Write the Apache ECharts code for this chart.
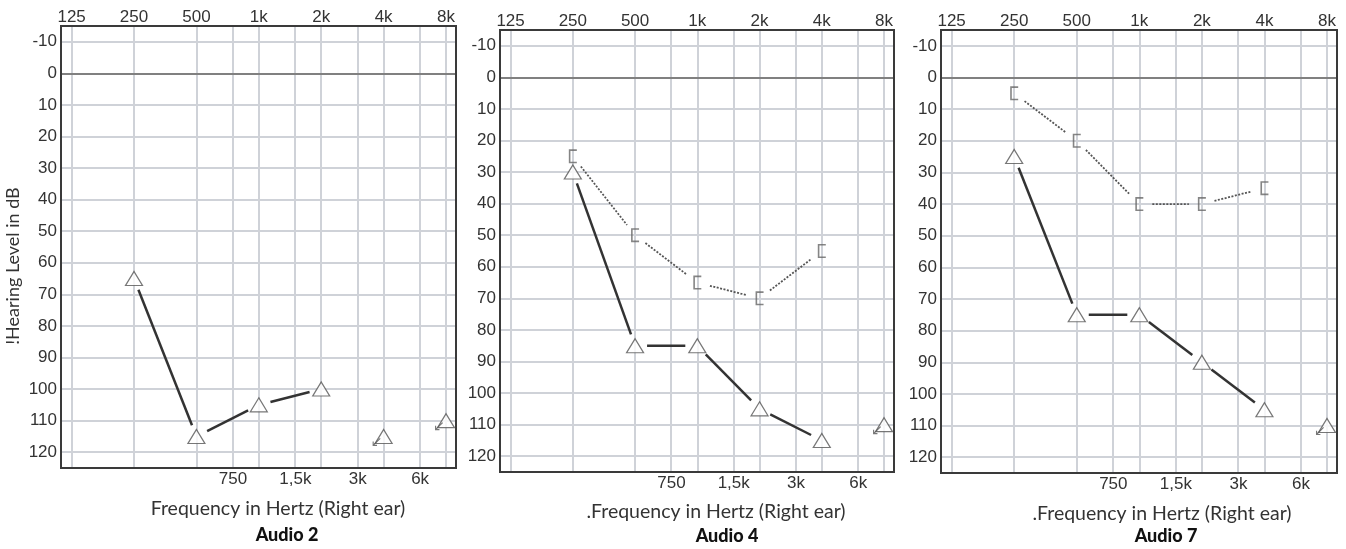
<!DOCTYPE html>
<html><head><meta charset="utf-8">
<script src="https://cdn.jsdelivr.net/npm/echarts@6/dist/echarts.min.js"></script>
<style>html,body{margin:0;padding:0;background:#fff}#c{width:1346px;height:549px}</style>
</head><body><div id="c"></div>
<script>
// ---- data ----
const topFreqs = [125, 250, 500, 1000, 2000, 4000, 8000];
const topLabels = ['125', '250', '500', '1k', '2k', '4k', '8k'];
const bottomFreqs = [750, 1500, 3000, 6000];
const bottomLabels = ['750', '1,5k', '3k', '6k'];
const dbTicks = [-10, 0, 10, 20, 30, 40, 50, 60, 70, 80, 90, 100, 110, 120];

const airFreqs = [250, 500, 1000, 2000, 4000, 8000];
const audio2Air = [65, 115, 105, 100, 115, 110];
const audio2NoResp = [0, 0, 0, 0, 1, 1];
const audio4Air = [30, 85, 85, 105, 115, 110];
const audio4NoResp = [0, 0, 0, 0, 0, 1];
const audio7Air = [25, 75, 75, 90, 105, 110];
const audio7NoResp = [0, 0, 0, 0, 0, 1];

const boneFreqs = [250, 500, 1000, 2000, 4000];
const audio4Bone = [25, 50, 65, 70, 55];
const audio7Bone = [5, 20, 40, 40, 35];

const panelTitles = ['Audio 2', 'Audio 4', 'Audio 7'];
const axisNames = ['Frequency in Hertz (Right ear)', '.Frequency in Hertz (Right ear)', '.Frequency in Hertz (Right ear)'];
const yAxisTitle = '!Hearing Level in dB';

// ---- build ----
const oct = f => Math.log2(f / 125);
const panels = [
  {air: audio2Air, noResp: audio2NoResp, bone: null},
  {air: audio4Air, noResp: audio4NoResp, bone: audio4Bone},
  {air: audio7Air, noResp: audio7NoResp, bone: audio7Bone}
];
const gridBoxes = [
  {left: 61, top: 26, width: 395, height: 442},
  {left: 500, top: 30, width: 394, height: 442},
  {left: 941, top: 30, width: 396, height: 443}
];
const textColor = '#333';
const labelFont = 'Liberation Sans, Arial, sans-serif';
const XMIN = -0.17, XMAX = 6.16;

const grids = [], xAxes = [], yAxes = [], series = [], graphics = [];
const topVals = topFreqs.map(oct), botVals = bottomFreqs.map(oct);
const allV = topVals.concat(botVals);

function segData(freqs, vals, noResp) {
  const out = [];
  for (let i = 0; i < freqs.length - 1; i++) {
    if (noResp && (noResp[i] || noResp[i + 1])) continue;
    out.push([oct(freqs[i]), vals[i], oct(freqs[i + 1]), vals[i + 1]]);
  }
  return out;
}
function segSeries(gi, data, style, gap) {
  return {
    type: 'custom', xAxisIndex: gi * 2 + 1, yAxisIndex: gi, data: data, z: 3, silent: true, clip: false,
    encode: {x: [0, 2], y: [1, 3]},
    renderItem: function (params, api) {
      const a = api.coord([api.value(0), api.value(1)]);
      const b = api.coord([api.value(2), api.value(3)]);
      const dx = b[0] - a[0], dy = b[1] - a[1], L = Math.hypot(dx, dy);
      const ux = dx / L, uy = dy / L;
      return {type: 'polyline',
        shape: {points: [[a[0] + ux * gap, a[1] + uy * gap], [b[0] - ux * gap, b[1] - uy * gap]]},
        style: Object.assign({fill: null}, style)};
    }
  };
}

panels.forEach((p, gi) => {
  grids.push(Object.assign({show: true, borderColor: '#3a3a3a', borderWidth: 2, backgroundColor: 'transparent', z: 4}, gridBoxes[gi]));
  xAxes.push({type: 'value', gridIndex: gi, position: 'top', min: XMIN, max: XMAX,
    axisLine: {show: false}, axisTick: {show: false}, splitLine: {show: false},
    axisLabel: {customValues: topVals, margin: 0, color: textColor, fontSize: 17, fontFamily: labelFont,
      formatter: v => { const i = topVals.findIndex(t => Math.abs(t - v) < 1e-6); return i >= 0 ? topLabels[i] : ''; }}});
  xAxes.push({type: 'value', gridIndex: gi, position: 'bottom', min: XMIN, max: XMAX,
    axisLine: {show: false}, axisTick: {show: false}, splitLine: {show: false},
    axisLabel: {customValues: botVals, margin: 3, color: textColor, fontSize: 17, fontFamily: labelFont,
      formatter: v => { const i = botVals.findIndex(t => Math.abs(t - v) < 1e-6); return i >= 0 ? bottomLabels[i] : ''; }}});
  yAxes.push({type: 'value', gridIndex: gi, inverse: true, min: -15, max: 125,
    axisLine: {show: false}, axisTick: {show: false}, splitLine: {show: false},
    axisLabel: {customValues: dbTicks, margin: 4, color: textColor, fontSize: 17, fontFamily: labelFont}});

  // grid lines
  const ml = [];
  allV.forEach(v => ml.push({xAxis: v}));
  dbTicks.filter(d => d !== 0).forEach(d => ml.push({yAxis: d}));
  series.push({type: 'line', xAxisIndex: gi * 2 + 1, yAxisIndex: gi, data: [], z: 1, silent: true,
    markLine: {z: 1, silent: true, symbol: ['none', 'none'], label: {show: false}, animation: false,
      lineStyle: {color: '#cfd2d8', width: 2, type: 'solid'}, data: ml}});
  series.push({type: 'line', xAxisIndex: gi * 2 + 1, yAxisIndex: gi, data: [], z: 1, silent: true,
    markLine: {z: 1, silent: true, symbol: ['none', 'none'], label: {show: false}, animation: false,
      lineStyle: {color: '#808080', width: 2, type: 'solid'}, data: [{yAxis: 0}]}});

  // air conduction lines
  series.push(segSeries(gi, segData(airFreqs, p.air, p.noResp), {stroke: '#333', lineWidth: 2.5}, 12));
  // bone lines
  if (p.bone) {
    series.push(segSeries(gi, segData(boneFreqs, p.bone, null), {stroke: '#555', lineWidth: 1.8, lineDash: [2, 1.5]}, 13));
    series.push({type: 'scatter', xAxisIndex: gi * 2 + 1, yAxisIndex: gi, z: 5, silent: true,
      data: boneFreqs.map((f, i) => [oct(f), p.bone[i]]),
      symbol: 'path://M0,0 L8,0 L8,1.6 L1.6,1.6 L1.6,12.4 L8,12.4 L8,14 L0,14 Z',
      symbolSize: [8, 14], itemStyle: {color: '#666'}});
  }
  // triangles
  series.push({type: 'scatter', xAxisIndex: gi * 2 + 1, yAxisIndex: gi, z: 6, silent: true,
    data: airFreqs.map((f, i) => [oct(f), p.air[i]]),
    symbol: 'triangle', symbolSize: [17, 14],
    itemStyle: {color: '#fff', borderColor: '#555', borderWidth: 1.2}});
  // no response arrows
  series.push({type: 'scatter', xAxisIndex: gi * 2 + 1, yAxisIndex: gi, z: 6, silent: true,
    data: airFreqs.map((f, i) => [oct(f), p.air[i]]).filter((d, i) => p.noResp[i]),
    symbol: 'path://M0,10 L0,4.5 L1.4,4.5 L1.4,7.6 L9,0 L10,1 L2.4,8.6 L5.5,8.6 L5.5,10 Z',
    symbolSize: [8, 8], symbolOffset: [-7, 5.5], itemStyle: {color: '#555'}});
});

const nameY = [509, 511.5, 513.5];
const nameX = [278, 716, 1162];
const titleY = [535, 536.5, 536];
const titleX = [287, 727, 1166];
panels.forEach((p, gi) => {
  graphics.push({type: 'text', x: nameX[gi], y: nameY[gi], silent: true,
    style: {text: axisNames[gi], fill: textColor, font: '19.5px Lato, sans-serif', textAlign: 'center', textVerticalAlign: 'middle'}});
  graphics.push({type: 'text', x: titleX[gi], y: titleY[gi], silent: true,
    style: {text: panelTitles[gi], fill: '#111', font: '900 18px Lato, sans-serif', textAlign: 'center', textVerticalAlign: 'middle'}});
});
graphics.push({type: 'text', x: 13, y: 266, rotation: Math.PI / 2, silent: true,
  style: {text: yAxisTitle, fill: textColor, font: '18px Lato, sans-serif', textAlign: 'center', textVerticalAlign: 'middle'}});

const chart = echarts.init(document.getElementById('c'), null, {renderer: 'canvas'});
chart.setOption({
  animation: false,
  backgroundColor: '#fff',
  grid: grids, xAxis: xAxes, yAxis: yAxes, series: series, graphic: graphics
});
</script></body></html>
